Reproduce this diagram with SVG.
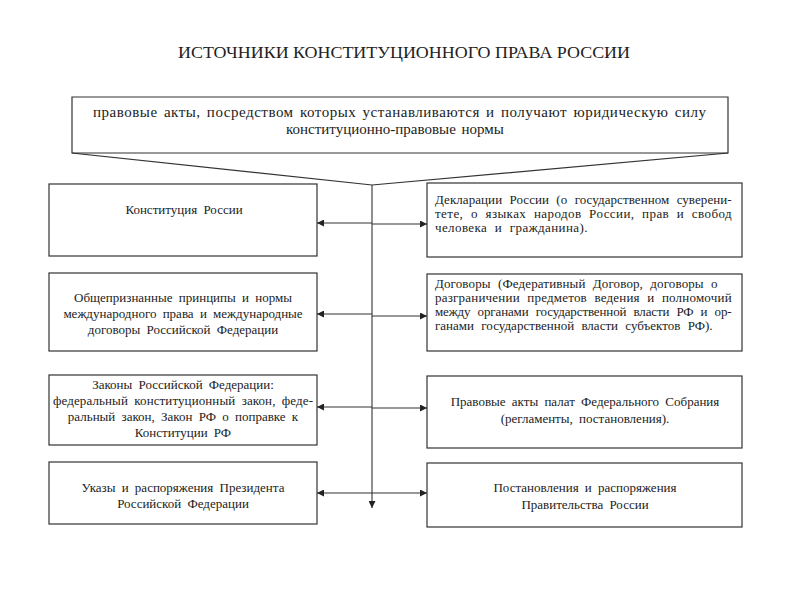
<svg xmlns="http://www.w3.org/2000/svg" width="800" height="600" viewBox="0 0 800 600">
<style>
.box{fill:#fff;stroke:#333;stroke-width:1.2}
.t{font-family:"Liberation Serif","DejaVu Serif",serif;font-size:13px;fill:#222;word-spacing:3px}
.r{letter-spacing:0.4px;word-spacing:4px}
.c{text-anchor:middle}
.tp{font-size:15px;word-spacing:2px}
.title{font-family:"Liberation Serif","DejaVu Serif",serif;font-size:17px;fill:#222;text-anchor:middle}
.ln{stroke:#333;stroke-width:1.1;fill:none}
</style>
<defs>
<marker id="ah" viewBox="0 0 10 10" refX="10" refY="5" markerWidth="7" markerHeight="7" orient="auto" markerUnits="userSpaceOnUse">
<path d="M0,0 L10,5 L0,10 z" fill="#222"/>
</marker>
</defs>
<rect width="800" height="600" fill="#fff"/>
<text class="title" x="404" y="58" textLength="452" lengthAdjust="spacingAndGlyphs">ИСТОЧНИКИ КОНСТИТУЦИОННОГО ПРАВА РОССИИ</text>

<g id="top">
<path class="box" d="M72,97 L728,97 L728,153 L372,185 L72,153 Z"/>
<line class="ln" x1="72" y1="153" x2="728" y2="153"/>
<text class="t tp" x="93" y="117" textLength="613" lengthAdjust="spacing">правовые акты, посредством которых устанавливаются и получают юридическую силу</text>
<text class="t tp c" x="395" y="134">конституционно-правовые нормы</text>
</g>

<g id="connectors">
<line class="ln" x1="372" y1="185" x2="372" y2="508" marker-end="url(#ah)"/>
<line class="ln" x1="372" y1="223" x2="317" y2="223" marker-end="url(#ah)"/>
<line class="ln" x1="372" y1="314" x2="317" y2="314" marker-end="url(#ah)"/>
<line class="ln" x1="372" y1="407" x2="317" y2="407" marker-end="url(#ah)"/>
<line class="ln" x1="372" y1="493" x2="317" y2="493" marker-end="url(#ah)"/>
<line class="ln" x1="372" y1="224" x2="427" y2="224" marker-end="url(#ah)"/>
<line class="ln" x1="372" y1="316" x2="427" y2="316" marker-end="url(#ah)"/>
<line class="ln" x1="372" y1="408" x2="427" y2="408" marker-end="url(#ah)"/>
<line class="ln" x1="372" y1="493" x2="427" y2="493" marker-end="url(#ah)"/>
</g>

<g id="l1">
<rect class="box" x="49" y="184" width="268" height="72"/>
<text class="t c" x="184" y="214">Конституция России</text>
</g>
<g id="l2">
<rect class="box" x="49" y="273" width="268" height="78"/>
<text class="t c" x="183" y="302">Общепризнанные принципы и нормы</text>
<text class="t c" x="183" y="318">международного права и международные</text>
<text class="t c" x="183" y="334">договоры Российской Федерации</text>
</g>
<g id="l3">
<rect class="box" x="49" y="375" width="268" height="70"/>
<text class="t c" x="183" y="389">Законы Российской Федерации:</text>
<text class="t" x="53" y="405" textLength="260" lengthAdjust="spacing">федеральный конституционный закон, феде-</text>
<text class="t c" x="183" y="421">ральный закон, Закон РФ о поправке к</text>
<text class="t c" x="183" y="437">Конституции РФ</text>
</g>
<g id="l4">
<rect class="box" x="49" y="462" width="268" height="62"/>
<text class="t c" x="183" y="492">Указы и распоряжения Президента</text>
<text class="t c" x="183" y="508">Российской Федерации</text>
</g>

<g id="r1">
<rect class="box" x="427" y="183" width="315" height="74"/>
<text class="t r" x="435" y="204" textLength="297" lengthAdjust="spacing">Декларации России (о государственном суверени-</text>
<text class="t r" x="435" y="218" textLength="297" lengthAdjust="spacing">тете, о языках народов России, прав и свобод</text>
<text class="t r" x="435" y="232">человека и гражданина).</text>
</g>
<g id="r2">
<rect class="box" x="427" y="274" width="315" height="77"/>
<text class="t r" x="435" y="288" textLength="283" lengthAdjust="spacing">Договоры (Федеративный Договор, договоры о</text>
<text class="t r" x="435" y="302" textLength="297" lengthAdjust="spacing">разграничении предметов ведения и полномочий</text>
<text class="t r" x="435" y="316" textLength="297" lengthAdjust="spacing">между органами государственной власти РФ и ор-</text>
<text class="t r" x="435" y="330" textLength="278" lengthAdjust="spacing">ганами государственной власти субъектов РФ).</text>
</g>
<g id="r3">
<rect class="box" x="427" y="376" width="315" height="72"/>
<text class="t c" x="585" y="406">Правовые акты палат Федерального Собрания</text>
<text class="t c" x="585" y="423">(регламенты, постановления).</text>
</g>
<g id="r4">
<rect class="box" x="427" y="463" width="315" height="64"/>
<text class="t c" x="585" y="492">Постановления и распоряжения</text>
<text class="t c" x="585" y="509">Правительства России</text>
</g>
</svg>
